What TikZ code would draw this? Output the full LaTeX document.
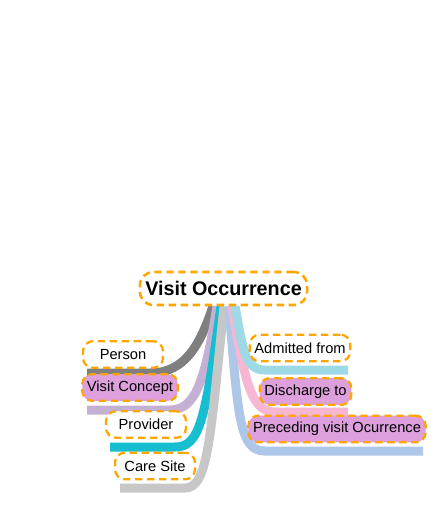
\documentclass[tikz,border=0pt]{standalone}
\usepackage{fontspec}
\setmainfont{Liberation Sans}
\usetikzlibrary{calc,backgrounds}

\definecolor{dashorange}{RGB}{255,165,0}
\definecolor{plumfill}{RGB}{221,160,221}
\definecolor{brgray}{RGB}{127,127,127}
\definecolor{brlavender}{RGB}{197,176,213}
\definecolor{brteal}{RGB}{23,190,207}
\definecolor{brsilver}{RGB}{199,199,199}
\definecolor{brblue}{RGB}{174,199,232}
\definecolor{brpink}{RGB}{247,182,210}
\definecolor{brcyan}{RGB}{158,218,229}

\tikzset{every picture/.style={line width=0.75pt}}
\tikzset{
  topic/.style={draw=dashorange, line width=1.7pt, dash pattern=on 5.5pt off 3.5pt,
    rounded corners=7.5pt, fill=white, inner xsep=3.5pt, inner ysep=0pt,
    minimum width=60pt, minimum height=20pt, font=\fontsize{11}{13}\selectfont},
  roottopic/.style={topic, line width=1.9pt, rounded corners=10pt, inner xsep=4pt,
    minimum height=24.75pt, font=\fontsize{14.8}{17}\selectfont\bfseries},
  hilite/.style={fill=plumfill},
  branch/.style={line width=6.75pt}
}

\begin{document}
\begin{tikzpicture}[x=0.75pt,y=0.75pt,yscale=-1,xscale=1]
\path[use as bounding box] (0,0) rectangle (448,518);

% Central topic
\node [roottopic] (visit) at (223.5,288.5) {Visit Occurrence};

% Branch ends
\coordinate (e-person) at (87,373);
\coordinate (e-concept) at (87,410);
\coordinate (e-provider) at (110,447);
\coordinate (e-caresite) at (120,488);
\coordinate (e-admitted) at (348,370);
\coordinate (e-discharge) at (348,412);
\coordinate (e-preceding) at (423,451);

\begin{pgfonlayer}{background}
%Left branches
\draw [branch, brgray] ($(visit.south)+(-10.5,0)$) .. controls (200,345) and (185,373) .. (150,373) -- (e-person) ;
\draw [branch, brlavender] ($(visit.south)+(-6.5,0)$) .. controls (205,380) and (196,410) .. (170,410) -- (e-concept) ;
\draw [branch, brteal] ($(visit.south)+(-2.5,0)$) .. controls (205,420) and (200,447) .. (175,447) -- (e-provider) ;
\draw [branch, brsilver] ($(visit.south)+(0.5,0)$) .. controls (210,440) and (208,488) .. (185,488) -- (e-caresite) ;
%Right branches
\draw [branch, brblue] ($(visit.south)+(5.5,0)$) .. controls (238,420) and (240,451) .. (265,451) -- (e-preceding) ;
\draw [branch, brpink] ($(visit.south)+(8.5,0)$) .. controls (245,385) and (252,412) .. (275,412) -- (e-discharge) ;
\draw [branch, brcyan] ($(visit.south)+(11.5,0)$) .. controls (243,350) and (245,370) .. (265,370) -- (e-admitted) ;
\end{pgfonlayer}

% Text Node
\node [topic] (person) at (123,354.5) {Person};
% Text Node
\node [topic, hilite] (concept) at (130,387.5) {Visit Concept};
% Text Node
\node [topic] (provider) at (146,424.5) {Provider};
% Text Node
\node [topic] (caresite) at (155,466) {Care Site};
% Text Node
\node [topic] (admitted) at (300,348) {Admitted from};
% Text Node
\node [topic, hilite] (discharge) at (305.5,391.5) {Discharge to};
% Text Node
\node [topic, hilite] (preceding) at (337,429) {Preceding visit Ocurrence};

\end{tikzpicture}
\end{document}
